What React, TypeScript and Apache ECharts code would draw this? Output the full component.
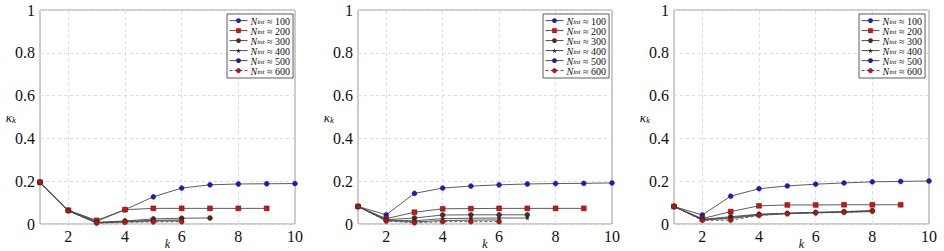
import React, { useEffect, useRef } from "react";
import * as echarts from "echarts";

const kValues = [1, 2, 3, 4, 5, 6, 7, 8, 9, 10];
const seriesNames = ["100", "200", "300", "400", "500", "600"];
const yTicks = [0, 0.2, 0.4, 0.6, 0.8, 1];
const xGridValues = [2, 4, 6, 8];

// panel 1
const p1s100 = [0.195, 0.064, 0.012, 0.067, 0.127, 0.168, 0.183, 0.187, 0.188, 0.189];
const p1s200 = [0.195, 0.064, 0.017, 0.067, 0.073, 0.073, 0.073, 0.073, 0.073];
const p1s300 = [0.195, 0.063, 0.008, 0.014, 0.024, 0.027, 0.028];
const p1s400 = [0.195, 0.062, 0.006, 0.012, 0.017, 0.019];
const p1s500 = [0.195, 0.062, 0.005, 0.01, 0.014, 0.015];
const p1s600 = [0.195, 0.062, 0.004, 0.008, 0.01, 0.011];

// panel 2
const p2s100 = [0.082, 0.043, 0.143, 0.168, 0.177, 0.183, 0.187, 0.189, 0.19, 0.192];
const p2s200 = [0.082, 0.025, 0.055, 0.071, 0.072, 0.073, 0.073, 0.073, 0.073];
const p2s300 = [0.082, 0.02, 0.028, 0.042, 0.043, 0.043, 0.043];
const p2s400 = [0.082, 0.018, 0.015, 0.025, 0.027, 0.028, 0.028];
const p2s500 = [0.082, 0.016, 0.01, 0.016, 0.018, 0.019];
const p2s600 = [0.082, 0.014, 0.006, 0.011, 0.011, 0.011];

// panel 3
const p3s100 = [0.082, 0.042, 0.13, 0.165, 0.178, 0.186, 0.192, 0.197, 0.199, 0.201];
const p3s200 = [0.082, 0.025, 0.058, 0.085, 0.089, 0.089, 0.09, 0.09, 0.09];
const p3s300 = [0.082, 0.022, 0.034, 0.046, 0.05, 0.054, 0.058, 0.063];
const p3s400 = [0.082, 0.02, 0.03, 0.044, 0.05, 0.054, 0.057, 0.06];
const p3s500 = [0.082, 0.019, 0.026, 0.041, 0.049, 0.053, 0.055, 0.058];
const p3s600 = [0.082, 0.017, 0.018, 0.04, 0.048, 0.052, 0.054, 0.06];

const panels = [
  [p1s100, p1s200, p1s300, p1s400, p1s500, p1s600],
  [p2s100, p2s200, p2s300, p2s400, p2s500, p2s600],
  [p3s100, p3s200, p3s300, p3s400, p3s500, p3s600],
];

const STAR = "path://M50,0 L61,35 L98,35 L68,57 L79,91 L50,70 L21,91 L32,57 L2,35 L39,35 Z";

const styles = [
  { symbol: "circle", size: 5, color: "#1a1ad0", dashed: false },
  { symbol: "rect", size: 5, color: "#d41010", dashed: false },
  { symbol: "circle", size: 5, color: "#4a3018", dashed: false },
  { symbol: STAR, size: 4, color: "#222222", dashed: false },
  { symbol: "circle", size: 3.5, color: "#1a1ab8", dashed: false },
  { symbol: "circle", size: 5, color: "#c01010", dashed: true },
];

const gridLefts = [40, 358, 674];
const gridWidths = [255, 254, 255];
const legendLefts = [227, 543, 859];

const SERIF = "serif";

export default function App() {
  const ref = useRef<HTMLDivElement>(null);
  useEffect(() => {
    if (!ref.current) return;
    const chart = echarts.init(ref.current, undefined, { renderer: "svg" });
    const grid: any[] = [];
    const xAxis: any[] = [];
    const yAxis: any[] = [];
    const series: any[] = [];
    const legend: any[] = [];
    panels.forEach((panel, p) => {
      grid.push({
        left: gridLefts[p],
        width: gridWidths[p],
        top: 10,
        height: 214,
        show: true,
        borderColor: "#9a9a9a",
        borderWidth: 1,
        backgroundColor: "transparent",
        containLabel: false,
        outerBoundsMode: "none",
      });
      xAxis.push({
        type: "value",
        gridIndex: p,
        min: 1,
        max: 10,
        interval: 1,
        axisLine: { show: false },
        axisTick: { show: false },
        splitLine: { show: false },
        axisLabel: {
          fontFamily: SERIF,
          fontSize: 16,
          color: "#111",
          margin: 4,
          formatter: (v: number) => (v % 2 === 0 ? String(v) : ""),
        },
        name: "k",
        nameLocation: "middle",
        nameGap: 14,
        nameMoveOverlap: false,
        nameTextStyle: { fontFamily: SERIF, fontStyle: "italic", fontSize: 12, color: "#111" },
      });
      yAxis.push({
        type: "value",
        gridIndex: p,
        min: yTicks[0],
        max: yTicks[yTicks.length - 1],
        interval: 0.2,
        axisLine: { show: false },
        axisTick: { show: false },
        splitLine: { show: true, lineStyle: { type: [3, 3], color: "#dcdcdc", width: 1 } },
        axisLabel: {
          fontFamily: SERIF,
          fontSize: 16,
          color: "#111",
          margin: 5,
          formatter: (v: number) => (v === 0 ? "0" : v === 1 ? "1" : v.toFixed(1)),
        },
        name: "{a|κ}{b|k}",
        nameLocation: "middle",
        nameRotate: 0,
        nameGap: 24,
        nameMoveOverlap: false,
        nameTextStyle: {
          rich: {
            a: { fontFamily: SERIF, fontStyle: "italic", fontSize: 13, color: "#111", verticalAlign: "bottom", lineHeight: 14 },
            b: { fontFamily: SERIF, fontStyle: "italic", fontSize: 9, color: "#111", verticalAlign: "bottom", lineHeight: 10, padding: [4, 0, 0, 0] },
          },
        },
      });
      panel.forEach((vals, i) => {
        const st = styles[i];
        const s: any = {
          name: "N" + seriesNames[i],
          type: "line",
          xAxisIndex: p,
          yAxisIndex: p,
          data: vals.map((v, j) => [kValues[j], v]),
          symbol: st.symbol,
          symbolSize: st.size,
          showSymbol: true,
          itemStyle: { color: st.color, borderColor: "#222", borderWidth: 0.4 },
          lineStyle: { color: "#4a4a4a", width: 0.9, type: st.dashed ? [3, 2] : "solid" },
          z: 3 + i,
        };
        if (i === 0) {
          s.markLine = {
            silent: true,
            symbol: "none",
            label: { show: false },
            lineStyle: { type: [3, 3], color: "#dcdcdc", width: 1 },
            data: xGridValues.map((x) => ({ xAxis: x })),
            z: 1,
          };
        }
        series.push(s);
      });
      legend.push({
        left: legendLefts[p],
        top: 14,
        orient: "vertical",
        itemGap: 0,
        itemWidth: 18,
        itemHeight: 6,
        padding: [2, 3, 2, 2],
        backgroundColor: "#fff",
        borderColor: "#333",
        borderWidth: 0.8,
        itemStyle: { borderWidth: 0 },
        lineStyle: { width: 1 },
        data: seriesNames.map((n) => "N" + n),
        formatter: (name: string) => "{n|N}{s|int}{t| ≈ " + name.slice(1) + "}",
        textStyle: {
          padding: [0, 0, 0, -2],
          rich: {
            n: { fontFamily: SERIF, fontStyle: "italic", fontSize: 10, color: "#111", lineHeight: 10.8, verticalAlign: "bottom" },
            s: { fontFamily: SERIF, fontStyle: "italic", fontSize: 7, color: "#111", lineHeight: 8, verticalAlign: "bottom" },
            t: { fontFamily: SERIF, fontSize: 10, color: "#111", lineHeight: 10.8, verticalAlign: "bottom" },
          },
        },
      });
    });
    chart.setOption({
      animation: false,
      backgroundColor: "#fff",
      grid,
      xAxis,
      yAxis,
      series,
      legend,
    });
    return () => chart.dispose();
  }, []);
  return (
    <div
      ref={ref}
      style={{ position: "fixed", left: 0, top: 0, width: 944, height: 251 }}
    />
  );
}
